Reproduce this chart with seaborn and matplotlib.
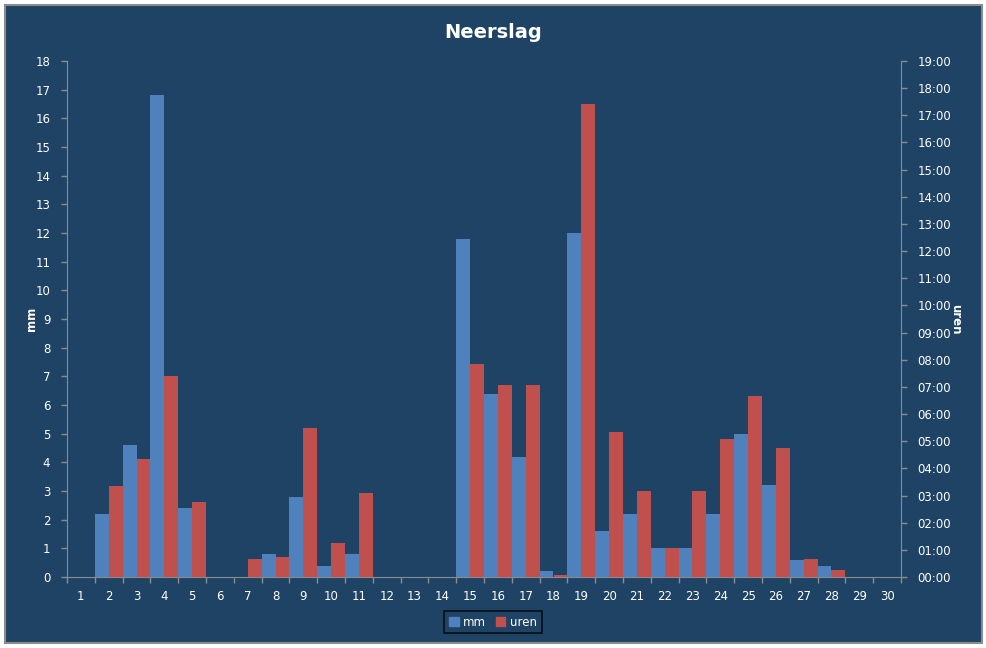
import numpy as np
import pandas as pd
import seaborn as sns
import matplotlib.pyplot as plt
import matplotlib.patches as mpatches
from matplotlib.ticker import FixedLocator, FuncFormatter

dagen = [str(d) for d in range(1, 31)]
mm = [0, 2.2, 4.6, 16.8, 2.4, 0, 0, 0.8, 2.8, 0.4,
      0.8, 0, 0, 0, 11.8, 6.4, 4.2, 0.2, 12.0, 1.6,
      2.2, 1.0, 1.0, 2.2, 5.0, 3.2, 0.6, 0.4, 0, 0]
uren = ['0:00', '3:20', '4:20', '7:25', '2:45', '0:00', '0:40', '0:45', '5:30', '1:15',
        '3:05', '0:00', '0:00', '0:00', '7:50', '7:05', '7:05', '0:05', '17:25', '5:20',
        '3:10', '1:05', '3:10', '5:05', '6:40', '4:45', '0:40', '0:15', '0:00', '0:00']

bg = '#1F4365'
blauw = '#4F81BD'
rood = '#C0504D'
lijn = '#8C8C8C'
tekst = '#FFFFFF'

uren_dec = [pd.to_timedelta(u + ':00').total_seconds() / 3600 for u in uren]
df_mm = pd.DataFrame({'dag': dagen, 'serie': 'mm', 'waarde': mm})
df_uren = pd.DataFrame({'dag': dagen, 'serie': 'uren', 'waarde': uren_dec})
kleuren = {'mm': blauw, 'uren': rood}

fig = plt.figure(figsize=(9.87, 6.48), dpi=100, facecolor='white')
fig.patches.append(mpatches.Rectangle((5 / 987, 5 / 648), 977 / 987, 638 / 648,
                                      transform=fig.transFigure, facecolor=bg,
                                      edgecolor=lijn, linewidth=1.5, zorder=-1))
ax = fig.add_axes([67 / 987, 1 - 577 / 648, 834 / 987, 516 / 648])
ax.set_facecolor(bg)
ax2 = ax.twinx()

sns.barplot(data=df_mm, x='dag', y='waarde', hue='serie', hue_order=['mm', 'uren'],
            order=dagen, palette=kleuren, width=1.0, dodge=True, errorbar=None,
            saturation=1, linewidth=0, legend=False, ax=ax)
sns.barplot(data=df_uren, x='dag', y='waarde', hue='serie', hue_order=['mm', 'uren'],
            order=dagen, palette=kleuren, width=1.0, dodge=True, errorbar=None,
            saturation=1, linewidth=0, legend=False, ax=ax2)

ax.set_xlim(-0.5, 29.5)
ax.set_ylim(0, 18)
ax2.set_ylim(0, 19)

# category borders as ticks, labels in the middle
ax.xaxis.set_major_locator(FixedLocator(np.arange(-0.5, 30, 1)))
ax.xaxis.set_minor_locator(FixedLocator(np.arange(0, 30, 1)))
ax.set_xticklabels([])
ax.set_xticklabels(dagen, minor=True)
ax.tick_params(axis='x', which='major', length=4, width=1, color=lijn, direction='out')
ax.tick_params(axis='x', which='minor', length=0, pad=9, labelsize=8.5, labelcolor=tekst)

ax.set_yticks(range(0, 19))
ax.tick_params(axis='y', length=4, width=1, color=lijn, labelsize=8.5, labelcolor=tekst, pad=8)
ax2.set_yticks(range(0, 20))
ax2.yaxis.set_major_formatter(FuncFormatter(lambda v, p: '%02d:00' % v))
ax2.tick_params(axis='y', length=4, width=1, color=lijn, labelsize=8.5, labelcolor=tekst, pad=8)

for a in (ax, ax2):
    a.set_xlabel('')
    for s in a.spines.values():
        s.set_visible(False)
ax.spines['left'].set_visible(True)
ax.spines['bottom'].set_visible(True)
ax.spines['left'].set_color(lijn)
ax.spines['bottom'].set_color(lijn)
ax2.spines['right'].set_visible(True)
ax2.spines['right'].set_color(lijn)

ax.set_ylabel('mm', color=tekst, fontsize=8.5, fontweight='bold', va='center')
ax.yaxis.set_label_coords((31.5 - 67) / 834, 0.5)
ax2.set_ylabel('uren', color=tekst, fontsize=8.5, fontweight='bold', rotation=270, va='center')
ax2.yaxis.set_label_coords((955.5 - 67) / 834, 0.5)

fig.text(0.5, 1 - 32 / 648, 'Neerslag', ha='center', va='center', color=tekst,
         fontsize=14, fontweight='bold')

handles = [mpatches.Patch(color=blauw, label='mm'), mpatches.Patch(color=rood, label='uren')]
leg = fig.legend(handles=handles, loc='center', bbox_to_anchor=(493 / 987, 1 - 622 / 648),
                 ncol=2, frameon=True, fontsize=8.5, handlelength=0.8, handleheight=0.8,
                 handletextpad=0.4, columnspacing=0.8, borderpad=0.4, borderaxespad=0,
                 fancybox=False)
leg.get_frame().set_facecolor(bg)
leg.get_frame().set_edgecolor('black')
leg.get_frame().set_linewidth(1.2)
for t in leg.get_texts():
    t.set_color(tekst)

fig.savefig('out.png', dpi=100, facecolor=fig.get_facecolor())
